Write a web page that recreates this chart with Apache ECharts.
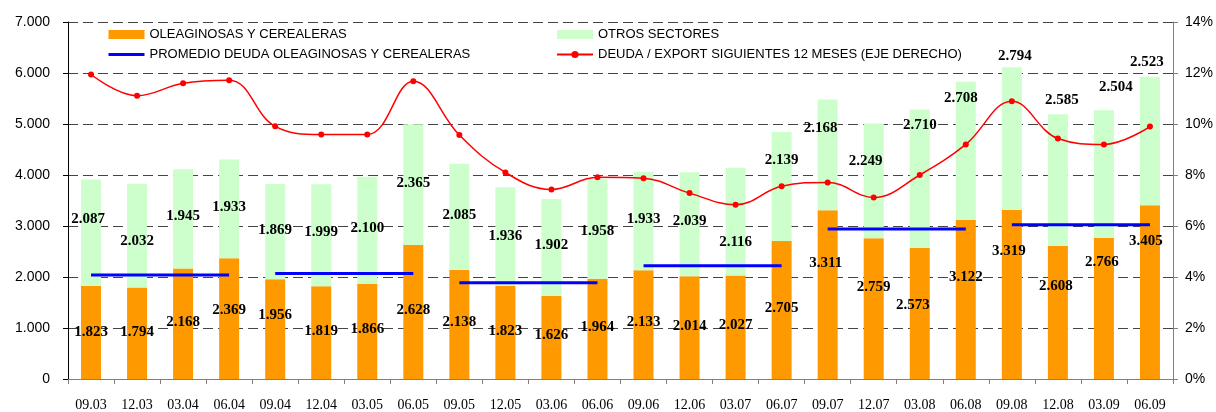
<!DOCTYPE html>
<html>
<head>
<meta charset="utf-8">
<script src="https://cdn.jsdelivr.net/npm/echarts@6/dist/echarts.min.js"></script>
<style>
  html, body { margin: 0; padding: 0; background: #fff; }
  #chart { width: 1216px; height: 412px; }
</style>
</head>
<body>
<div id="chart"></div>
<script>
const categories = ['09.03', '12.03', '03.04', '06.04', '09.04', '12.04', '03.05', '06.05',
  '09.05', '12.05', '03.06', '06.06', '09.06', '12.06', '03.07', '06.07',
  '09.07', '12.07', '03.08', '06.08', '09.08', '12.08', '03.09', '06.09']

// deuda en millones
const oleaginosas = [1823, 1794, 2168, 2369, 1956, 1819, 1866, 2628,
  2138, 1823, 1626, 1964, 2133, 2014, 2027, 2705,
  3311, 2759, 2573, 3122, 3319, 2608, 2766, 3405]
const otros = [2087, 2032, 1945, 1933, 1869, 1999, 2100, 2365,
  2085, 1936, 1902, 1958, 1933, 2039, 2116, 2139,
  2168, 2249, 2710, 2708, 2794, 2585, 2504, 2523]

// promedio por año (4 trimestres cada uno)
const promedio = [2039, 2067, 1888, 2220, 2941, 3025]

// deuda / export siguientes 12 meses, en %
const deudaExport = [11.94, 11.11, 11.6, 11.72, 9.91, 9.59, 9.59, 11.68,
  9.57, 8.1, 7.43, 7.91, 7.87, 7.29, 6.83, 7.56,
  7.71, 7.12, 8.0, 9.2, 10.89, 9.43, 9.2, 9.9]

const leftTicks = { min: 0, max: 7000, interval: 1000 }
const rightTicks = { min: 0, max: 14, interval: 2 }

// desplazamientos de las etiquetas (como en el original)
const oleaginosasLabelShift = [[0, 0], [0, -1], [0, -2], [0, -8], [0, -14], [0, -1], [0, -2], [0, -2],
  [0, -2], [0, -1], [0, -2], [0, -2], [0, -2], [0, -2], [0, -2], [0, -2],
  [-2, -31], [0, -22], [-7, -8], [0, -22], [-3, -43], [-2, -26], [-2, -46], [-4, -51]]
const otrosLabelShift = [[-3, -14], [0, 5], [0, -3], [0, -2], [0, -1], [0, -3], [0, -2], [0, -2],
  [0, -2], [0, -1], [0, -2], [0, 2], [0, -2], [0, -3], [0, 20], [0, -26],
  [-7, -27], [-8, -20], [0, -54], [-5, -53], [3, -82], [4, -80], [12, -87], [-3, -79]]

const NAME_OLE = 'OLEAGINOSAS Y CEREALERAS'
const NAME_OTROS = 'OTROS SECTORES'
const NAME_PROM = 'PROMEDIO DEUDA OLEAGINOSAS Y CEREALERAS'
const NAME_RATIO = 'DEUDA / EXPORT SIGUIENTES 12 MESES (EJE DERECHO)'

function miles(v) {
  const n = Math.round(v)
  if (n < 1000) return String(n)
  const r = String(n % 1000).padStart(3, '0')
  return Math.floor(n / 1000) + '.' + r
}

function withLabels(values, shifts) {
  return values.map((v, i) => ({
    value: v,
    label: { offset: shifts[i] }
  }))
}

const labelStyle = {
  show: true,
  position: 'inside',
  fontFamily: 'Liberation Serif',
  fontWeight: 'bold',
  fontSize: 15,
  color: '#000',
  formatter: p => miles(p.value)
}

const promedioSeries = promedio.map((v, g) => ({
  name: NAME_PROM,
  type: 'line',
  symbol: 'none',
  z: 4,
  lineStyle: { color: '#0000ff', width: 3 },
  itemStyle: { color: '#0000ff' },
  data: categories.map((c, i) => (Math.floor(i / 4) === g ? v : null))
}))

const legendBase = {
  top: 23,
  orient: 'vertical',
  itemWidth: 36,
  itemHeight: 9,
  itemGap: 7,
  textStyle: { fontFamily: 'Liberation Sans', fontSize: 13, color: '#000' }
}

const chart = echarts.init(document.getElementById('chart'))
chart.setOption({
  animation: false,
  backgroundColor: '#fff',
  textStyle: { fontFamily: 'Liberation Sans' },
  legend: [{
    ...legendBase,
    left: 102,
    data: [
      { name: NAME_OLE, icon: 'rect' },
      { name: NAME_PROM, itemStyle: { opacity: 0 }, lineStyle: { width: 3 } }
    ]
  }, {
    ...legendBase,
    left: 551,
    data: [
      { name: NAME_OTROS, icon: 'rect' },
      NAME_RATIO
    ]
  }],
  grid: {
    left: 68,
    right: 42,
    top: 22,
    bottom: 31
  },
  xAxis: {
    type: 'category',
    data: categories,
    axisLine: { lineStyle: { color: '#808080', width: 1 } },
    axisTick: { show: true, length: 5, lineStyle: { color: '#808080' } },
    axisLabel: {
      margin: 19,
      fontFamily: 'Liberation Serif',
      fontSize: 14,
      color: '#000'
    }
  },
  yAxis: [{
    type: 'value',
    min: leftTicks.min,
    max: leftTicks.max,
    interval: leftTicks.interval,
    axisLine: { show: true, lineStyle: { color: '#000', width: 1 } },
    axisTick: { show: true, length: 5, lineStyle: { color: '#000' } },
    axisLabel: {
      margin: 18,
      fontFamily: 'Liberation Sans',
      fontSize: 14,
      color: '#000',
      formatter: v => miles(v)
    },
    splitLine: {
      show: true,
      lineStyle: { color: '#444', type: [10, 5], width: 1 }
    }
  }, {
    type: 'value',
    min: rightTicks.min,
    max: rightTicks.max,
    interval: rightTicks.interval,
    position: 'right',
    axisLine: { show: true, lineStyle: { color: '#808080', width: 1 } },
    axisTick: { show: true, length: 5, lineStyle: { color: '#808080' } },
    axisLabel: {
      margin: 12,
      fontFamily: 'Liberation Sans',
      fontSize: 14,
      color: '#000',
      formatter: '{value}%'
    },
    splitLine: { show: false }
  }],
  series: [{
    name: NAME_OLE,
    type: 'bar',
    stack: 'deuda',
    barWidth: 20,
    itemStyle: { color: '#ff9900' },
    label: labelStyle,
    data: withLabels(oleaginosas, oleaginosasLabelShift)
  }, {
    name: NAME_OTROS,
    type: 'bar',
    stack: 'deuda',
    barWidth: 20,
    itemStyle: { color: '#ccffcc' },
    label: labelStyle,
    data: withLabels(otros, otrosLabelShift)
  },
  ...promedioSeries,
  {
    name: NAME_RATIO,
    type: 'line',
    yAxisIndex: 1,
    smooth: 0.4,
    symbol: 'circle',
    symbolSize: 6,
    z: 5,
    lineStyle: { color: '#ff0000', width: 1.5 },
    itemStyle: { color: '#ff0000' },
    data: deudaExport
  }]
})
</script>
</body>
</html>
